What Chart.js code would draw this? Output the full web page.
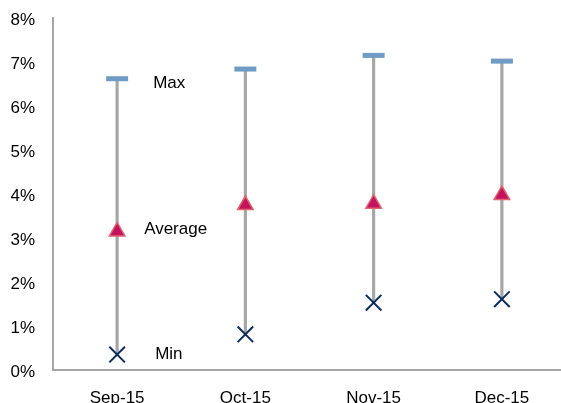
<!DOCTYPE html>
<html>
<head>
<meta charset="utf-8">
<script src="https://cdn.jsdelivr.net/npm/chart.js@4"></script>
<style>
  html, body { margin: 0; padding: 0; background: #fff; overflow: hidden; }
  canvas { display: block; }
</style>
</head>
<body>
<canvas id="myChart" width="582" height="403"></canvas>
<script>
const labels = ["Sep-15", "Oct-15", "Nov-15", "Dec-15"];
const maxValues = [6.62, 6.84, 7.15, 7.02];
const avgValues = [3.15, 3.75, 3.78, 3.98];
const minValues = [0.35, 0.81, 1.53, 1.61];
const yTicks = [0, 1, 2, 3, 4, 5, 6, 7, 8];

// the grey stems run from min to max
const ranges = minValues.map((v, i) => [v, maxValues[i]]);

const AXIS_GREY = '#A6A6A6';
const FONT = { family: '"Liberation Sans", Arial, sans-serif', size: 17 };

// "Max", "Average", "Min" written next to the first category
const seriesNames = {
  id: 'seriesNames',
  afterDatasetsDraw(chart) {
    const ctx = chart.ctx;
    ctx.save();
    ctx.font = FONT.size + 'px ' + FONT.family;
    ctx.fillStyle = '#000';
    ctx.textBaseline = 'middle';
    ctx.textAlign = 'left';
    chart.data.datasets.forEach((ds, i) => {
      if (!ds.tag) return;
      const pt = chart.getDatasetMeta(i).data[0];
      ctx.fillText(ds.tag.text, pt.x + ds.tag.dx, pt.y + ds.tag.dy);
    });
    ctx.restore();
  }
};

// keep the plot area where the layout padding puts it
const noScalePadding = (scale) => {
  scale.paddingLeft = 0;
  scale.paddingRight = 0;
  scale.paddingTop = 0;
  scale.paddingBottom = 0;
};

const data = {
  labels: labels,
  datasets: [
    {
      type: 'line',
      label: 'Max',
      data: maxValues,
      showLine: false,
      pointStyle: 'line',
      pointRadius: 11,
      pointHoverRadius: 11,
      borderWidth: 5,
      borderColor: '#6F9BC4',
      tag: { text: 'Max', dx: 36, dy: 5 }
    },
    {
      type: 'line',
      label: 'Average',
      data: avgValues,
      showLine: false,
      pointStyle: 'triangle',
      pointRadius: 9,
      pointHoverRadius: 9,
      borderWidth: 1.5,
      backgroundColor: '#C4125E',
      borderColor: '#E0646E',
      tag: { text: 'Average', dx: 27, dy: -2 }
    },
    {
      type: 'line',
      label: 'Min',
      data: minValues,
      showLine: false,
      pointStyle: 'crossRot',
      pointRadius: 11,
      pointHoverRadius: 11,
      borderWidth: 2,
      borderColor: '#0D2B5E',
      tag: { text: 'Min', dx: 38, dy: 0 }
    },
    {
      type: 'bar',
      label: 'Range',
      data: ranges,
      backgroundColor: AXIS_GREY,
      barThickness: 2.5,
      borderSkipped: false
    }
  ]
};

const config = {
  type: 'bar',
  data: data,
  plugins: [seriesNames],
  options: {
    responsive: false,
    animation: false,
    layout: { padding: { top: 18, left: 0, right: 0, bottom: 0 } },
    plugins: {
      legend: { display: false },
      tooltip: { enabled: false }
    },
    scales: {
      x: {
        grid: { display: false, drawTicks: false },
        border: { display: true, color: AXIS_GREY, width: 2 },
        ticks: { color: '#000', font: FONT, padding: 18, maxRotation: 0 },
        afterFit: (scale) => { scale.height = 33; noScalePadding(scale); }
      },
      y: {
        min: 0,
        max: 8,
        grid: { display: false, drawTicks: false },
        border: { display: true, color: AXIS_GREY, width: 2 },
        afterBuildTicks: (scale) => { scale.ticks = yTicks.map(v => ({ value: v })); },
        ticks: {
          color: '#000',
          font: FONT,
          padding: 18,
          labelOffset: 2,
          callback: (v) => v + '%'
        },
        afterFit: (scale) => { scale.width = 53; noScalePadding(scale); }
      }
    }
  }
};

const myChart = new Chart(document.getElementById('myChart'), config);
</script>
</body>
</html>
